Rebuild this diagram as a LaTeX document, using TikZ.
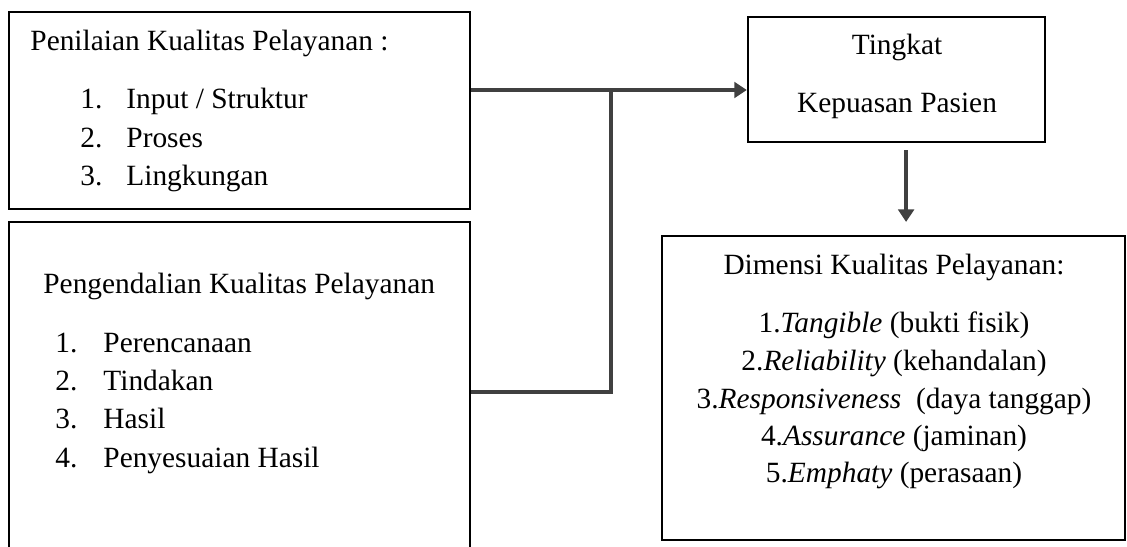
\documentclass[tikz,border=0pt]{standalone}
\usepackage{fontspec}
\setmainfont{Liberation Serif}
\usetikzlibrary{arrows.meta}
\definecolor{ccgris}{RGB}{64,64,64}

\begin{document}
\begin{tikzpicture}[x=0.48pt, y=-0.48pt,
  cadre/.style={draw=black, line width=1.1pt, inner sep=0pt},
  texte/.style={anchor=base west, inner sep=0pt, font=\fontsize{14.1}{17}\selectfont},
  textec/.style={anchor=base, inner sep=0pt, font=\fontsize{14.1}{17}\selectfont},
  fleche/.style={draw=ccgris, line width=2pt, -{Triangle[length=6pt, width=7.5pt]}},
  liaison/.style={draw=ccgris, line width=1.5pt}]

  % Bounding box of the scheme
  \clip (0,0) rectangle (1127,546);

  %%%%%%%%%%%%%%%%%%%%%%%%%%%%%%%%% Cadres %%%%%%%%%%%%%%%%%%%%%%%%%%%%%%%%%%%%
  \draw (239.5,110.5) node[cadre, minimum width=221.3pt, minimum height=94.6pt] (penilaian) {} ;
  \draw (239.5,396) node[cadre, minimum width=221.3pt, minimum height=167pt] (pengendalian) {} ;
  \draw (896.5,79.5) node[cadre, minimum width=142.6pt, minimum height=60pt] (kepuasan) {} ;
  \draw (893.5,388) node[cadre, minimum width=222.2pt, minimum height=145.9pt] (dimensi) {} ;

  %%%%%%%%%%%%%%%%%%%%%%%%%%%%%%%%% Textes %%%%%%%%%%%%%%%%%%%%%%%%%%%%%%%%%%%%

  % Penilaian
  \draw (30,50) node[texte] (pen0) {Penilaian Kualitas Pelayanan :} ;
  \draw (80,108) node[texte] (pen1n) {1.} ;
  \draw (126,108) node[texte] (pen1) {Input / Struktur} ;
  \draw (80,147) node[texte] (pen2n) {2.} ;
  \draw (126,147) node[texte] (pen2) {Proses} ;
  \draw (80,185) node[texte] (pen3n) {3.} ;
  \draw (126,185) node[texte] (pen3) {Lingkungan} ;

  % Pengendalian
  \draw (43,293) node[texte] (peng0) {Pengendalian Kualitas Pelayanan} ;
  \draw (55,352) node[texte] (peng1n) {1.} ;
  \draw (103,352) node[texte] (peng1) {Perencanaan} ;
  \draw (55,390) node[texte] (peng2n) {2.} ;
  \draw (103,390) node[texte] (peng2) {Tindakan} ;
  \draw (55,428) node[texte] (peng3n) {3.} ;
  \draw (103,428) node[texte] (peng3) {Hasil} ;
  \draw (55,467) node[texte] (peng4n) {4.} ;
  \draw (103,467) node[texte] (peng4) {Penyesuaian Hasil} ;

  % Kepuasan
  \draw (897,54) node[textec] (kep1) {Tingkat} ;
  \draw (897,112) node[textec] (kep2) {Kepuasan Pasien} ;

  % Dimensi
  \draw (894,274) node[textec] (dim0) {Dimensi Kualitas Pelayanan:} ;
  \draw (894,332) node[textec] (dim1) {1.\textit{Tangible} (bukti fisik)} ;
  \draw (894,370) node[textec] (dim2) {2.\textit{Reliability} (kehandalan)} ;
  \draw (894,408) node[textec] (dim3) {3.\textit{Responsiveness}\ \ (daya tanggap)} ;
  \draw (894,445) node[textec] (dim4) {4.\textit{Assurance} (jaminan)} ;
  \draw (894,482) node[textec] (dim5) {5.\textit{Emphaty} (perasaan)} ;

  %%%%%%%%%%%%%%%%%%%%%%%%%%%%%%%%% Liaisons %%%%%%%%%%%%%%%%%%%%%%%%%%%%%%%%%%%%
  \coordinate (coude) at (611,90) ;
  \coordinate (pied) at (611,392) ;

  \draw[liaison] (pied -| pengendalian.east) -- (pied) -- (coude) ;
  \draw[fleche] (coude -| penilaian.east) -- (coude -| kepuasan.west) ;
  \draw[fleche, shorten <=3.4pt, shorten >=6.2pt] ([xshift=4.6pt]kepuasan.south) -- ([xshift=4.6pt]kepuasan.south |- dimensi.north) ;

\end{tikzpicture}
\end{document}
